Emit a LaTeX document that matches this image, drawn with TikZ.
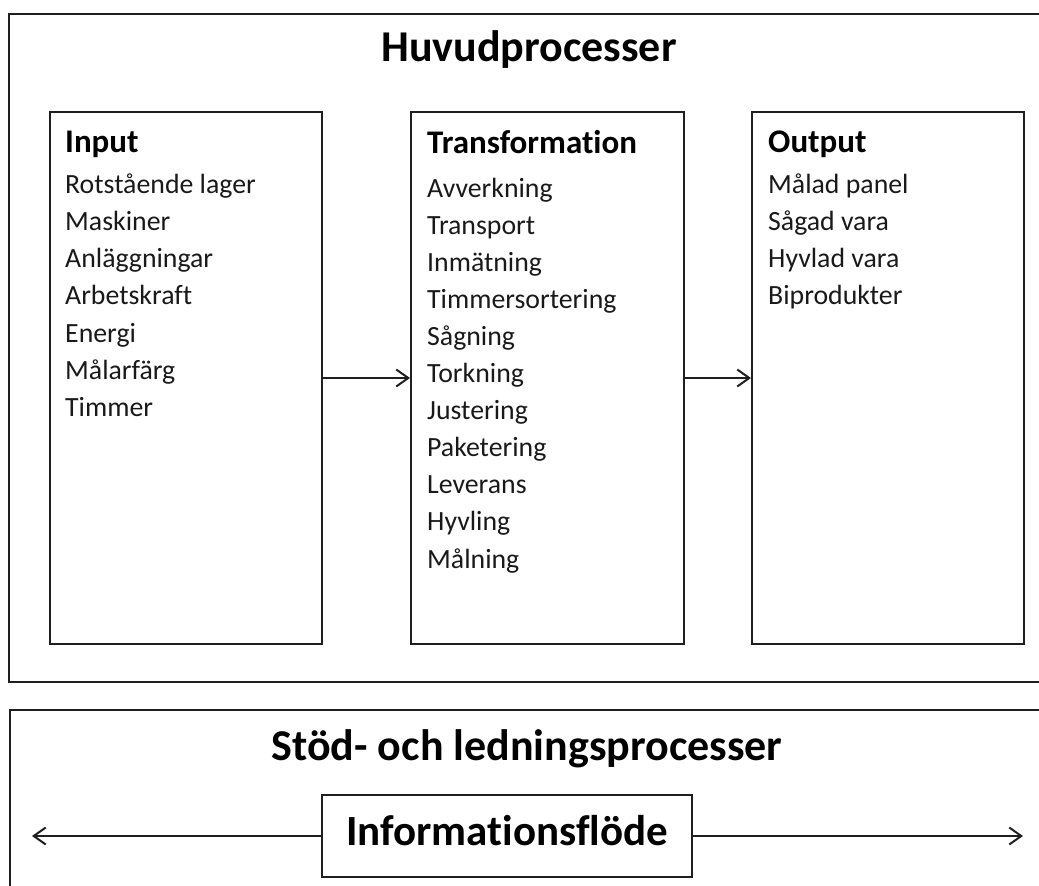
\documentclass[tikz,border=0pt]{standalone}
\usepackage{fontspec}
\setmainfont{Carlito}[Ligatures={NoCommon,NoContextual,NoRare}]
\usetikzlibrary{arrows.meta}

\tikzset{
  frame/.style={draw=black!88, line width=2pt, fill=none},
  colbox/.style={frame, anchor=north west, inner sep=0pt},
  arr/.style={draw=black!88, line width=2pt,
    -{Straight Barb[length=12pt,width=17pt,line width=2pt]}},
  item/.style={anchor=base west, inner sep=0pt, text=black!90,
    font=\fontsize{27.8}{34}\selectfont},
  head/.style={anchor=base west, inner sep=0pt,
    font=\fontsize{33}{40}\selectfont\bfseries},
  title/.style={anchor=base, inner sep=0pt,
    font=\fontsize{44}{52}\selectfont\bfseries}
}

\begin{document}
\begin{tikzpicture}[x=1pt,y=-1pt]
  \useasboundingbox (0,0) rectangle (1039,886);
  \clip (0,0) rectangle (1039,886);

  % main process frame and support frame (both run past the page edge)
  \draw[frame] (9,14) rectangle (1070,682);
  \draw[frame] (10,710) rectangle (1070,920);

  \node[title] (huvud) at (529,61) {Huvudprocesser};

  % three process columns
  \node[colbox, minimum width=272pt, minimum height=532pt] (inp) at (49,111) {};
  \node[colbox, minimum width=273pt, minimum height=532pt] (trn) at (410,111) {};
  \node[colbox, minimum width=272pt, minimum height=532pt] (out) at (751,111) {};

  \node[head] (hinp) at (65,152) {Input};
  \node[head] (htrn) at (427,153) {Transformation};
  \node[head] (hout) at (768,152) {Output};

  \foreach \t [count=\i from 0] in {Rotstående lager, Maskiner, Anläggningar,
      Arbetskraft, Energi, Målarfärg, Timmer}
    \node[item] (inp\i) at (65,193+37.3*\i) {\t};

  \foreach \t [count=\i from 0] in {Avverkning, Transport, Inmätning,
      Timmersortering, Sågning, Torkning, Justering, Paketering, Leverans,
      Hyvling, Målning}
    \node[item] (trn\i) at (427,197+37.1*\i) {\t};

  \foreach \t [count=\i from 0] in {Målad panel, Sågad vara, Hyvlad vara,
      Biprodukter}
    \node[item] (out\i) at (768,193+37.3*\i) {\t};

  \draw[arr] (inp.east) -- (trn.west);
  \draw[arr] (trn.east) -- (out.west);

  % support and management processes
  \node[title] (stod) at (527,760) {Stöd- och ledningsprocesser};

  \node[frame, minimum width=370pt, minimum height=82pt, inner sep=0pt,
        text height=18pt, text depth=0pt,
        font=\fontsize{43}{50}\selectfont\bfseries] (info) at (507,836)
        {Informationsflöde};

  \coordinate (lend) at (32,836);
  \coordinate (rend) at (1023,836);
  \draw[arr] (info.west) -- (lend);
  \draw[arr] (info.east) -- (rend);
\end{tikzpicture}
\end{document}
